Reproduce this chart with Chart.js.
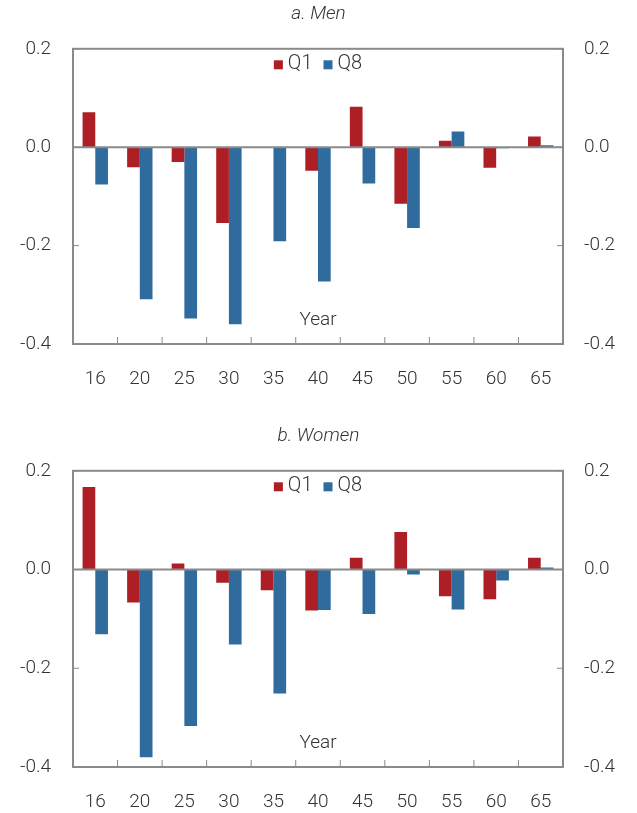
<!DOCTYPE html>
<html>
<head>
<meta charset="utf-8">
<script src="https://cdn.jsdelivr.net/npm/chart.js@4.4.1/dist/chart.umd.min.js"></script>
<style>
  html, body { margin: 0; padding: 0; background: #fff; }
  canvas { display: block; }
</style>
</head>
<body>
<canvas id="menChart" width="637" height="422"></canvas>
<canvas id="womenChart" width="637" height="391"></canvas>
<script>
const ages = ['16', '20', '25', '30', '35', '40', '45', '50', '55', '60', '65'];

const menQ1 = [0.071, -0.041, -0.030, -0.154, 0, -0.048, 0.082, -0.115, 0.013, -0.042, 0.022];
const menQ8 = [-0.076, -0.309, -0.348, -0.360, -0.191, -0.273, -0.074, -0.164, 0.032, -0.002, 0.004];

const womenQ1 = [0.167, -0.067, 0.012, -0.027, -0.042, -0.083, 0.024, 0.076, -0.054, -0.060, 0.024];
const womenQ8 = [-0.131, -0.380, -0.317, -0.152, -0.251, -0.082, -0.090, -0.010, -0.081, -0.022, 0.004];

const yTicks = [0.2, 0.0, -0.2, -0.4];

const red = '#ad1f24';
const blue = '#2f6c9d';
const frameColor = '#8a8a8a';
const textColor = '#333';
const fontFamily = 'Roboto, "Liberation Sans", sans-serif';

// frame, zero line, inward ticks, legend inside the plot and the "Year" label
const framePlugin = {
  id: 'frame',
  afterDatasetsDraw(chart) {
    const ctx = chart.ctx;
    const a = chart.chartArea;
    const x = chart.scales.x;
    const y = chart.scales.y;
    const line = (x1, y1, x2, y2) => {
      ctx.beginPath();
      ctx.moveTo(x1, y1);
      ctx.lineTo(x2, y2);
      ctx.stroke();
    };
    ctx.save();
    ctx.strokeStyle = frameColor;

    ctx.lineWidth = 1;
    yTicks.forEach(v => {
      const py = y.getPixelForValue(v);
      line(a.left, py, a.left + 6, py);
      line(a.right - 6, py, a.right, py);
    });
    for (let i = 1; i < ages.length; i++) {
      const px = (x.getPixelForValue(i - 1) + x.getPixelForValue(i)) / 2;
      line(px, a.bottom, px, a.bottom - 7);
    }

    ctx.lineWidth = 2;
    const y0 = y.getPixelForValue(0);
    line(a.left, y0, a.right, y0);
    ctx.strokeRect(a.left, a.top, a.right - a.left, a.bottom - a.top);

    ctx.fillStyle = textColor;
    ctx.font = '300 19px ' + fontFamily;
    ctx.textAlign = 'center';
    ctx.textBaseline = 'middle';
    ctx.fillText('Year', (a.left + a.right) / 2, a.bottom - 24);

    // legend
    ctx.font = '300 20px ' + fontFamily;
    ctx.textAlign = 'left';
    const box = 9, gap = 5, between = 11;
    const sets = chart.data.datasets;
    const widths = sets.map(d => box + gap + ctx.measureText(d.label).width);
    const total = widths.reduce((s, w) => s + w, 0) + between * (sets.length - 1);
    let lx = (a.left + a.right) / 2 - total / 2;
    const ly = a.top + 15;
    sets.forEach((d, i) => {
      ctx.fillStyle = d.backgroundColor;
      ctx.fillRect(lx, ly - box / 2 + 1, box, box);
      ctx.fillStyle = textColor;
      ctx.fillText(d.label, lx + box + gap, ly);
      lx += widths[i] + between;
    });
    ctx.restore();
  }
};

function fmt(v) {
  if (Math.abs(v) < 1e-9) return '0.0';
  return v.toFixed(1);
}

function makeChart(id, title, q1, q8, xAxisHeight) {
  const yAxis = (pos) => ({
    position: pos,
    min: -0.4,
    max: 0.2,
    afterFit: (s) => { s.width = pos === 'left' ? 73 : 74; },
    afterBuildTicks: (s) => { s.ticks = yTicks.map(v => ({ value: v })); },
    grid: { display: false, drawTicks: false },
    border: { display: false },
    ticks: {
      padding: pos === 'left' ? 22 : 21,
      color: textColor,
      font: { family: fontFamily, size: 19, weight: 300 },
      callback: fmt
    }
  });

  return new Chart(document.getElementById(id), {
    type: 'bar',
    data: {
      labels: ages,
      datasets: [
        { label: 'Q1', data: q1, backgroundColor: red, yAxisID: 'y' },
        { label: 'Q8', data: q8, backgroundColor: blue, yAxisID: 'y' }
      ]
    },
    options: {
      responsive: false,
      animation: false,
      categoryPercentage: 0.57,
      barPercentage: 1.0,
      layout: { padding: 0 },
      plugins: {
        title: {
          display: true,
          text: title,
          color: textColor,
          font: { family: fontFamily, size: 19, style: 'italic', weight: 300 },
          padding: { top: 3, bottom: 23 }
        },
        legend: { display: false },
        tooltip: { enabled: false }
      },
      scales: {
        x: {
          afterFit: (s) => { s.height = xAxisHeight; },
          grid: { display: false, drawTicks: false },
          border: { display: false },
          ticks: {
            padding: 24,
            color: textColor,
            font: { family: fontFamily, size: 19, weight: 300 }
          }
        },
        y: yAxis('left'),
        y2: yAxis('right')
      }
    },
    plugins: [framePlugin]
  });
}

makeChart('menChart', 'a. Men', menQ1, menQ8, 78);
makeChart('womenChart', 'b. Women', womenQ1, womenQ8, 46);
</script>
</body>
</html>
